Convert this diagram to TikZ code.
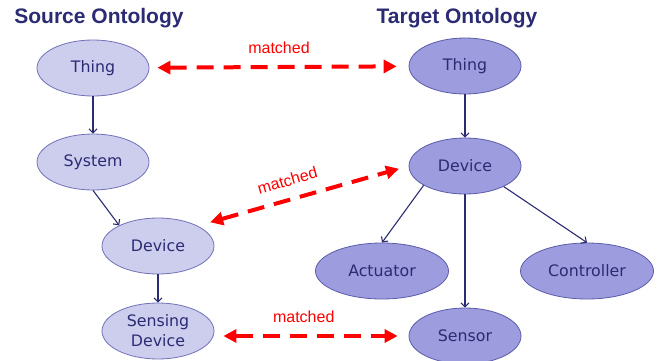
\documentclass[tikz,border=0pt]{standalone}
\usepackage{fontspec}
\setmainfont{DejaVu Sans}
\newfontfamily\arialfont{Liberation Sans}
\usepackage{tikz}
\usetikzlibrary{shapes.geometric,arrows.meta}

\definecolor{navy}{HTML}{2B2B73}
\definecolor{srcfill}{HTML}{CDCDEE}
\definecolor{srcline}{HTML}{7272B8}
\definecolor{tgtfill}{HTML}{9C9CDE}
\definecolor{tgtline}{HTML}{5C5CAA}

\begin{document}
\begin{tikzpicture}[x=1pt, y=-1pt,
    concept/.style={ellipse, minimum width=112pt, minimum height=56pt, inner sep=0pt,
        line width=0.8pt, text=navy, font=\fontsize{15.8}{20}\selectfont, align=center},
    src/.style={concept, draw=srcline, fill=srcfill},
    tgt/.style={concept, draw=tgtline, fill=tgtfill},
    title/.style={text=navy, font=\arialfont\bfseries\fontsize{21}{24}\selectfont},
    isa/.style={draw=navy, line width=1.1pt, -{Straight Barb[length=4pt,width=8pt]}},
    match/.style={draw=red, line width=4pt, dash pattern=on 17pt off 10pt,
        {Triangle[length=13pt,width=13pt]}-{Triangle[length=13pt,width=13pt]}},
    matchlabel/.style={text=red, font=\arialfont\fontsize{16}{18}\selectfont}]

    \useasboundingbox (0,0) rectangle (665,360);

    % titles
    \node[title] (srctitle) at (99,18) {Source Ontology};
    \node[title] (tgttitle) at (457,18) {Target Ontology};

    % source ontology
    \node[src] (srcthing) at (93,68) {Thing};
    \node[src] (system) at (93,162) {System};
    \node[src] (srcdevice) at (158,246) {Device};
    \node[src] (sensing) at (158,331) {Sensing\\Device};

    % target ontology
    \node[tgt] (tgtthing) at (465,66) {Thing};
    \node[tgt] (tgtdevice) at (465,166) {Device};
    \node[tgt, minimum width=133pt] (actuator) at (382,271) {Actuator};
    \node[tgt, minimum width=133pt] (controller) at (587,271) {Controller};
    \node[tgt] (sensor) at (465,336) {Sensor};

    \draw[isa] (srcthing) -- (system);
    \draw[isa] (system.south) -- (srcdevice.152);
    \draw[isa] (srcdevice) -- (sensing);

    \draw[isa] (tgtthing) -- (tgtdevice);
    \draw[isa] (tgtdevice.-155) -- (actuator.north);
    \draw[isa] (tgtdevice) -- (sensor);
    \draw[isa] (tgtdevice.-28) -- (controller.north);

    % matches
    \draw[match, shorten <=8pt, shorten >=12pt] (srcthing) -- (tgtthing)
        node[matchlabel, midway, above=8pt] {matched};
    \draw[match, shorten <=13pt, shorten >=10pt] (srcdevice.27) -- (tgtdevice.west)
        node[matchlabel, pos=0.45, sloped, above=8pt] {matched};
    \draw[match, shorten <=9pt, shorten >=11pt] (sensing.east |- sensor.west) -- (sensor.west)
        node[matchlabel, pos=0.46, above=8pt] {matched};
\end{tikzpicture}
\end{document}
